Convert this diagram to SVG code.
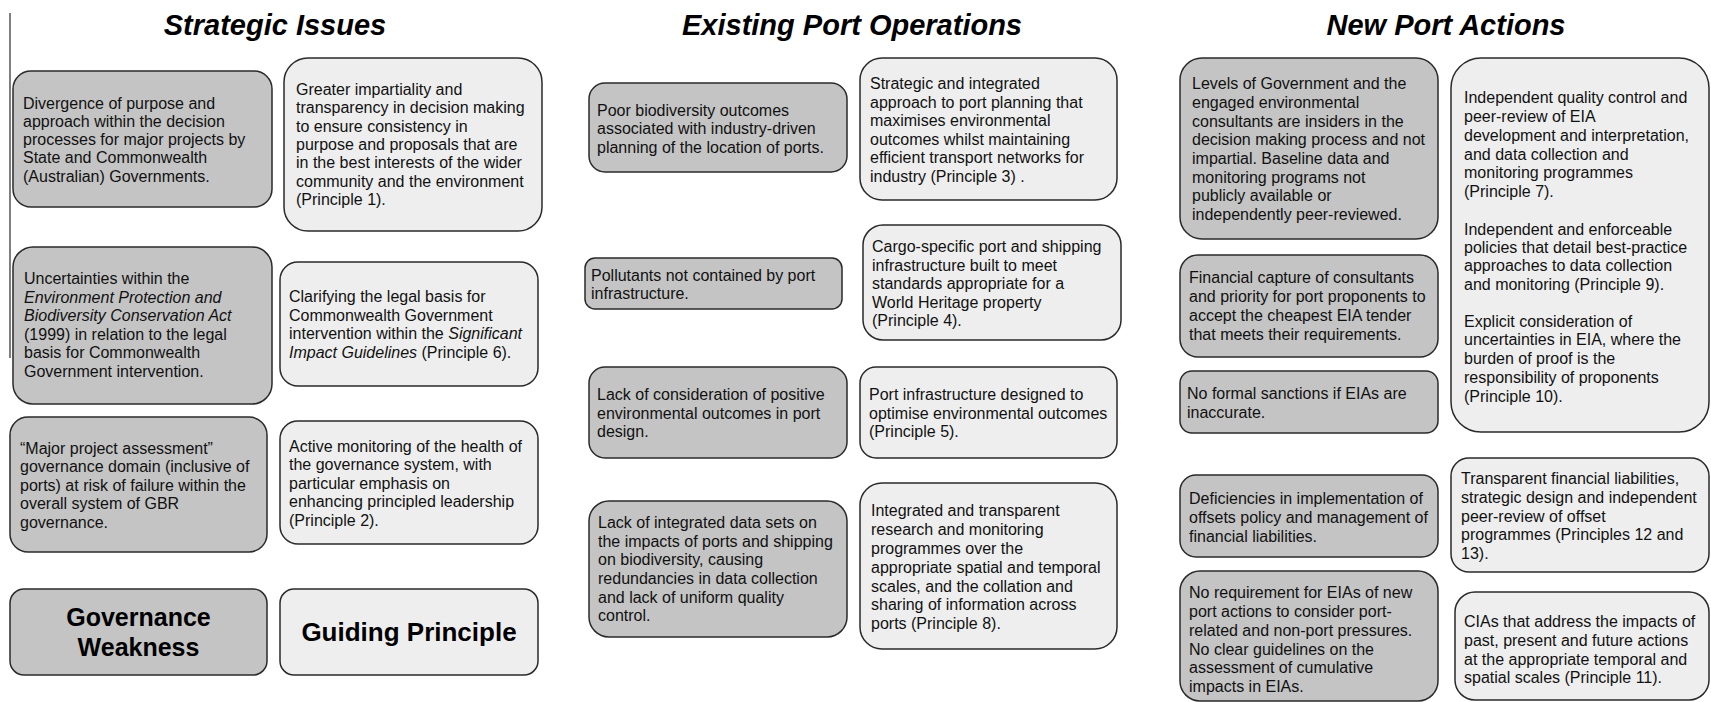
<svg xmlns="http://www.w3.org/2000/svg" width="1711" height="702" viewBox="0 0 1711 702">
<style>
.dk{fill:#c4c4c4;stroke:#2a2a2a;stroke-width:1.5}
.lt{fill:#eeeeee;stroke:#2a2a2a;stroke-width:1.5}
.t{font-family:"Liberation Sans",Arial,sans-serif;font-size:16px;fill:#111}
.h{font-family:"Liberation Sans",Arial,sans-serif;font-size:29px;font-weight:bold;font-style:italic;fill:#000;text-anchor:middle}
.b{font-family:"Liberation Sans",Arial,sans-serif;font-size:25px;font-weight:bold;fill:#000;text-anchor:middle}
.i{font-style:italic}
</style>
<rect width="1711" height="702" fill="#ffffff"/>
<line x1="10" y1="13" x2="10" y2="358" stroke="#555" stroke-width="1.5"/>
<g id="titles">
<text class="h" x="275" y="35">Strategic Issues</text>
<text class="h" x="852" y="35">Existing Port Operations</text>
<text class="h" x="1446" y="35">New Port Actions</text>
</g>
<g id="a1"><rect class="dk" x="13" y="71" width="259" height="136" rx="18"/>
<text class="t"><tspan x="23" y="108.5">Divergence of purpose and</tspan><tspan x="23" y="126.8">approach within the decision</tspan><tspan x="23" y="145">processes for major projects by</tspan><tspan x="23" y="163.3">State and Commonwealth</tspan><tspan x="23" y="181.6">(Australian) Governments.</tspan></text></g>
<g id="b1"><rect class="lt" x="284" y="58" width="258" height="173" rx="24"/>
<text class="t"><tspan x="296" y="95">Greater impartiality and</tspan><tspan x="296" y="113.3">transparency in decision making</tspan><tspan x="296" y="131.6">to ensure consistency in</tspan><tspan x="296" y="150">purpose and proposals that are</tspan><tspan x="296" y="168.3">in the best interests of the wider</tspan><tspan x="296" y="186.6">community and the environment</tspan><tspan x="296" y="205">(Principle 1).</tspan></text></g>
<g id="a2"><rect class="dk" x="13" y="247" width="259" height="157" rx="20"/>
<text class="t"><tspan x="24" y="284">Uncertainties within the</tspan><tspan x="24" y="302.5" class="i">Environment Protection and</tspan><tspan x="24" y="321" class="i">Biodiversity Conservation Act</tspan><tspan x="24" y="339.5">(1999) in relation to the legal</tspan><tspan x="24" y="358">basis for Commonwealth</tspan><tspan x="24" y="376.5">Government intervention.</tspan></text></g>
<g id="b2"><rect class="lt" x="280" y="262" width="258" height="124" rx="18"/>
<text class="t"><tspan x="289" y="302">Clarifying the legal basis for</tspan><tspan x="289" y="320.5">Commonwealth Government</tspan><tspan x="289" y="339">intervention within the <tspan class="i">Significant</tspan></tspan><tspan x="289" y="357.5"><tspan class="i">Impact Guidelines</tspan> (Principle 6).</tspan></text></g>
<g id="a3"><rect class="dk" x="10" y="417" width="257" height="135" rx="18"/>
<text class="t"><tspan x="20" y="453.5">“Major project assessment”</tspan><tspan x="20" y="472">governance domain (inclusive of</tspan><tspan x="20" y="490.5">ports) at risk of failure within the</tspan><tspan x="20" y="509">overall system of GBR</tspan><tspan x="20" y="527.5">governance.</tspan></text></g>
<g id="b3"><rect class="lt" x="280" y="421" width="258" height="123" rx="18"/>
<text class="t"><tspan x="289" y="451.5">Active monitoring of the health of</tspan><tspan x="289" y="470">the governance system, with</tspan><tspan x="289" y="488.5">particular emphasis on</tspan><tspan x="289" y="507">enhancing principled leadership</tspan><tspan x="289" y="525.5">(Principle 2).</tspan></text></g>
<g id="a4"><rect class="dk" x="10" y="589" width="257" height="86" rx="14"/>
<text class="b"><tspan x="138.5" y="626">Governance</tspan><tspan x="138.5" y="656">Weakness</tspan></text></g>
<g id="b4"><rect class="lt" x="280" y="589" width="258" height="86" rx="14"/>
<text class="b" style="font-size:26px"><tspan x="409" y="641">Guiding Principle</tspan></text></g>

<g id="c1"><rect class="dk" x="589" y="83" width="258" height="89" rx="16"/>
<text class="t"><tspan x="597" y="115.5">Poor biodiversity outcomes</tspan><tspan x="597" y="134">associated with industry-driven</tspan><tspan x="597" y="152.5">planning of the location of ports.</tspan></text></g>
<g id="d1"><rect class="lt" x="860" y="58" width="257" height="142" rx="22"/>
<text class="t"><tspan x="870" y="89">Strategic and integrated</tspan><tspan x="870" y="107.5">approach to port planning that</tspan><tspan x="870" y="126">maximises environmental</tspan><tspan x="870" y="144.5">outcomes whilst maintaining</tspan><tspan x="870" y="163">efficient transport networks for</tspan><tspan x="870" y="181.5">industry (Principle 3) .</tspan></text></g>
<g id="c2"><rect class="dk" x="585" y="258" width="257" height="51" rx="10"/>
<text class="t"><tspan x="591" y="280.5">Pollutants not contained by port</tspan><tspan x="591" y="299">infrastructure.</tspan></text></g>
<g id="d2"><rect class="lt" x="863" y="225" width="258" height="115" rx="20"/>
<text class="t"><tspan x="872" y="252">Cargo-specific port and shipping</tspan><tspan x="872" y="270.5">infrastructure built to meet</tspan><tspan x="872" y="289">standards appropriate for a</tspan><tspan x="872" y="307.5">World Heritage property</tspan><tspan x="872" y="326">(Principle 4).</tspan></text></g>
<g id="c3"><rect class="dk" x="589" y="367" width="258" height="91" rx="16"/>
<text class="t"><tspan x="597" y="400">Lack of consideration of positive</tspan><tspan x="597" y="418.5">environmental outcomes in port</tspan><tspan x="597" y="437">design.</tspan></text></g>
<g id="d3"><rect class="lt" x="860" y="367" width="257" height="91" rx="16"/>
<text class="t"><tspan x="869" y="400">Port infrastructure designed to</tspan><tspan x="869" y="418.5">optimise environmental outcomes</tspan><tspan x="869" y="437">(Principle 5).</tspan></text></g>
<g id="c4"><rect class="dk" x="589" y="501" width="258" height="136" rx="20"/>
<text class="t"><tspan x="598" y="528">Lack of integrated data sets on</tspan><tspan x="598" y="546.7">the impacts of ports and shipping</tspan><tspan x="598" y="565.4">on biodiversity, causing</tspan><tspan x="598" y="584">redundancies in data collection</tspan><tspan x="598" y="602.7">and lack of uniform quality</tspan><tspan x="598" y="621.4">control.</tspan></text></g>
<g id="d4"><rect class="lt" x="860" y="483" width="257" height="166" rx="22"/>
<text class="t"><tspan x="871" y="516">Integrated and transparent</tspan><tspan x="871" y="535">research and monitoring</tspan><tspan x="871" y="554">programmes over the</tspan><tspan x="871" y="573">appropriate spatial and temporal</tspan><tspan x="871" y="591.5">scales, and the collation and</tspan><tspan x="871" y="610">sharing of information across</tspan><tspan x="871" y="629">ports (Principle 8).</tspan></text></g>

<g id="e1"><rect class="dk" x="1180" y="58" width="258" height="181" rx="22"/>
<text class="t"><tspan x="1192" y="89">Levels of Government and the</tspan><tspan x="1192" y="108">engaged environmental</tspan><tspan x="1192" y="126.5">consultants are insiders in the</tspan><tspan x="1192" y="145">decision making process and not</tspan><tspan x="1192" y="164">impartial. Baseline data and</tspan><tspan x="1192" y="182.5">monitoring programs not</tspan><tspan x="1192" y="201">publicly available or</tspan><tspan x="1192" y="220">independently peer-reviewed.</tspan></text></g>
<g id="f1"><rect class="lt" x="1451" y="58" width="258" height="374" rx="30"/>
<text class="t"><tspan x="1464" y="103">Independent quality control and</tspan><tspan x="1464" y="122">peer-review of EIA</tspan><tspan x="1464" y="140.5">development and interpretation,</tspan><tspan x="1464" y="159.5">and data collection and</tspan><tspan x="1464" y="178">monitoring programmes</tspan><tspan x="1464" y="197">(Principle 7).</tspan><tspan x="1464" y="234.5">Independent and enforceable</tspan><tspan x="1464" y="252.5">policies that detail best-practice</tspan><tspan x="1464" y="271">approaches to data collection</tspan><tspan x="1464" y="289.5">and monitoring (Principle 9).</tspan><tspan x="1464" y="326.5">Explicit consideration of</tspan><tspan x="1464" y="345">uncertainties in EIA, where the</tspan><tspan x="1464" y="364">burden of proof is the</tspan><tspan x="1464" y="382.5">responsibility of proponents</tspan><tspan x="1464" y="401.5">(Principle 10).</tspan></text></g>
<g id="e2"><rect class="dk" x="1180" y="255" width="258" height="102" rx="18"/>
<text class="t"><tspan x="1189" y="283">Financial capture of consultants</tspan><tspan x="1189" y="302">and priority for port proponents to</tspan><tspan x="1189" y="321">accept the cheapest EIA tender</tspan><tspan x="1189" y="340">that meets their requirements.</tspan></text></g>
<g id="e3"><rect class="dk" x="1180" y="371" width="258" height="62" rx="12"/>
<text class="t"><tspan x="1187" y="399">No formal sanctions if EIAs are</tspan><tspan x="1187" y="417.5">inaccurate.</tspan></text></g>
<g id="e4"><rect class="dk" x="1180" y="475" width="258" height="82" rx="16"/>
<text class="t"><tspan x="1189" y="504">Deficiencies in implementation of</tspan><tspan x="1189" y="523">offsets policy and management of</tspan><tspan x="1189" y="541.5">financial liabilities.</tspan></text></g>
<g id="f2"><rect class="lt" x="1451" y="458" width="258" height="114" rx="18"/>
<text class="t"><tspan x="1461" y="484">Transparent financial liabilities,</tspan><tspan x="1461" y="502.5">strategic design and independent</tspan><tspan x="1461" y="521.5">peer-review of offset</tspan><tspan x="1461" y="540">programmes (Principles 12 and</tspan><tspan x="1461" y="559">13).</tspan></text></g>
<g id="e5"><rect class="dk" x="1180" y="571" width="258" height="130" rx="20"/>
<text class="t"><tspan x="1189" y="598">No requirement for EIAs of new</tspan><tspan x="1189" y="617">port actions to consider port-</tspan><tspan x="1189" y="635.5">related and non-port pressures.</tspan><tspan x="1189" y="654.5">No clear guidelines on the</tspan><tspan x="1189" y="673">assessment of cumulative</tspan><tspan x="1189" y="691.5">impacts in EIAs.</tspan></text></g>
<g id="f3"><rect class="lt" x="1455" y="592" width="254" height="108" rx="20"/>
<text class="t"><tspan x="1464" y="626.5">CIAs that address the impacts of</tspan><tspan x="1464" y="645.5">past, present and future actions</tspan><tspan x="1464" y="664.5">at the appropriate temporal and</tspan><tspan x="1464" y="683">spatial scales (Principle 11).</tspan></text></g>
</svg>
